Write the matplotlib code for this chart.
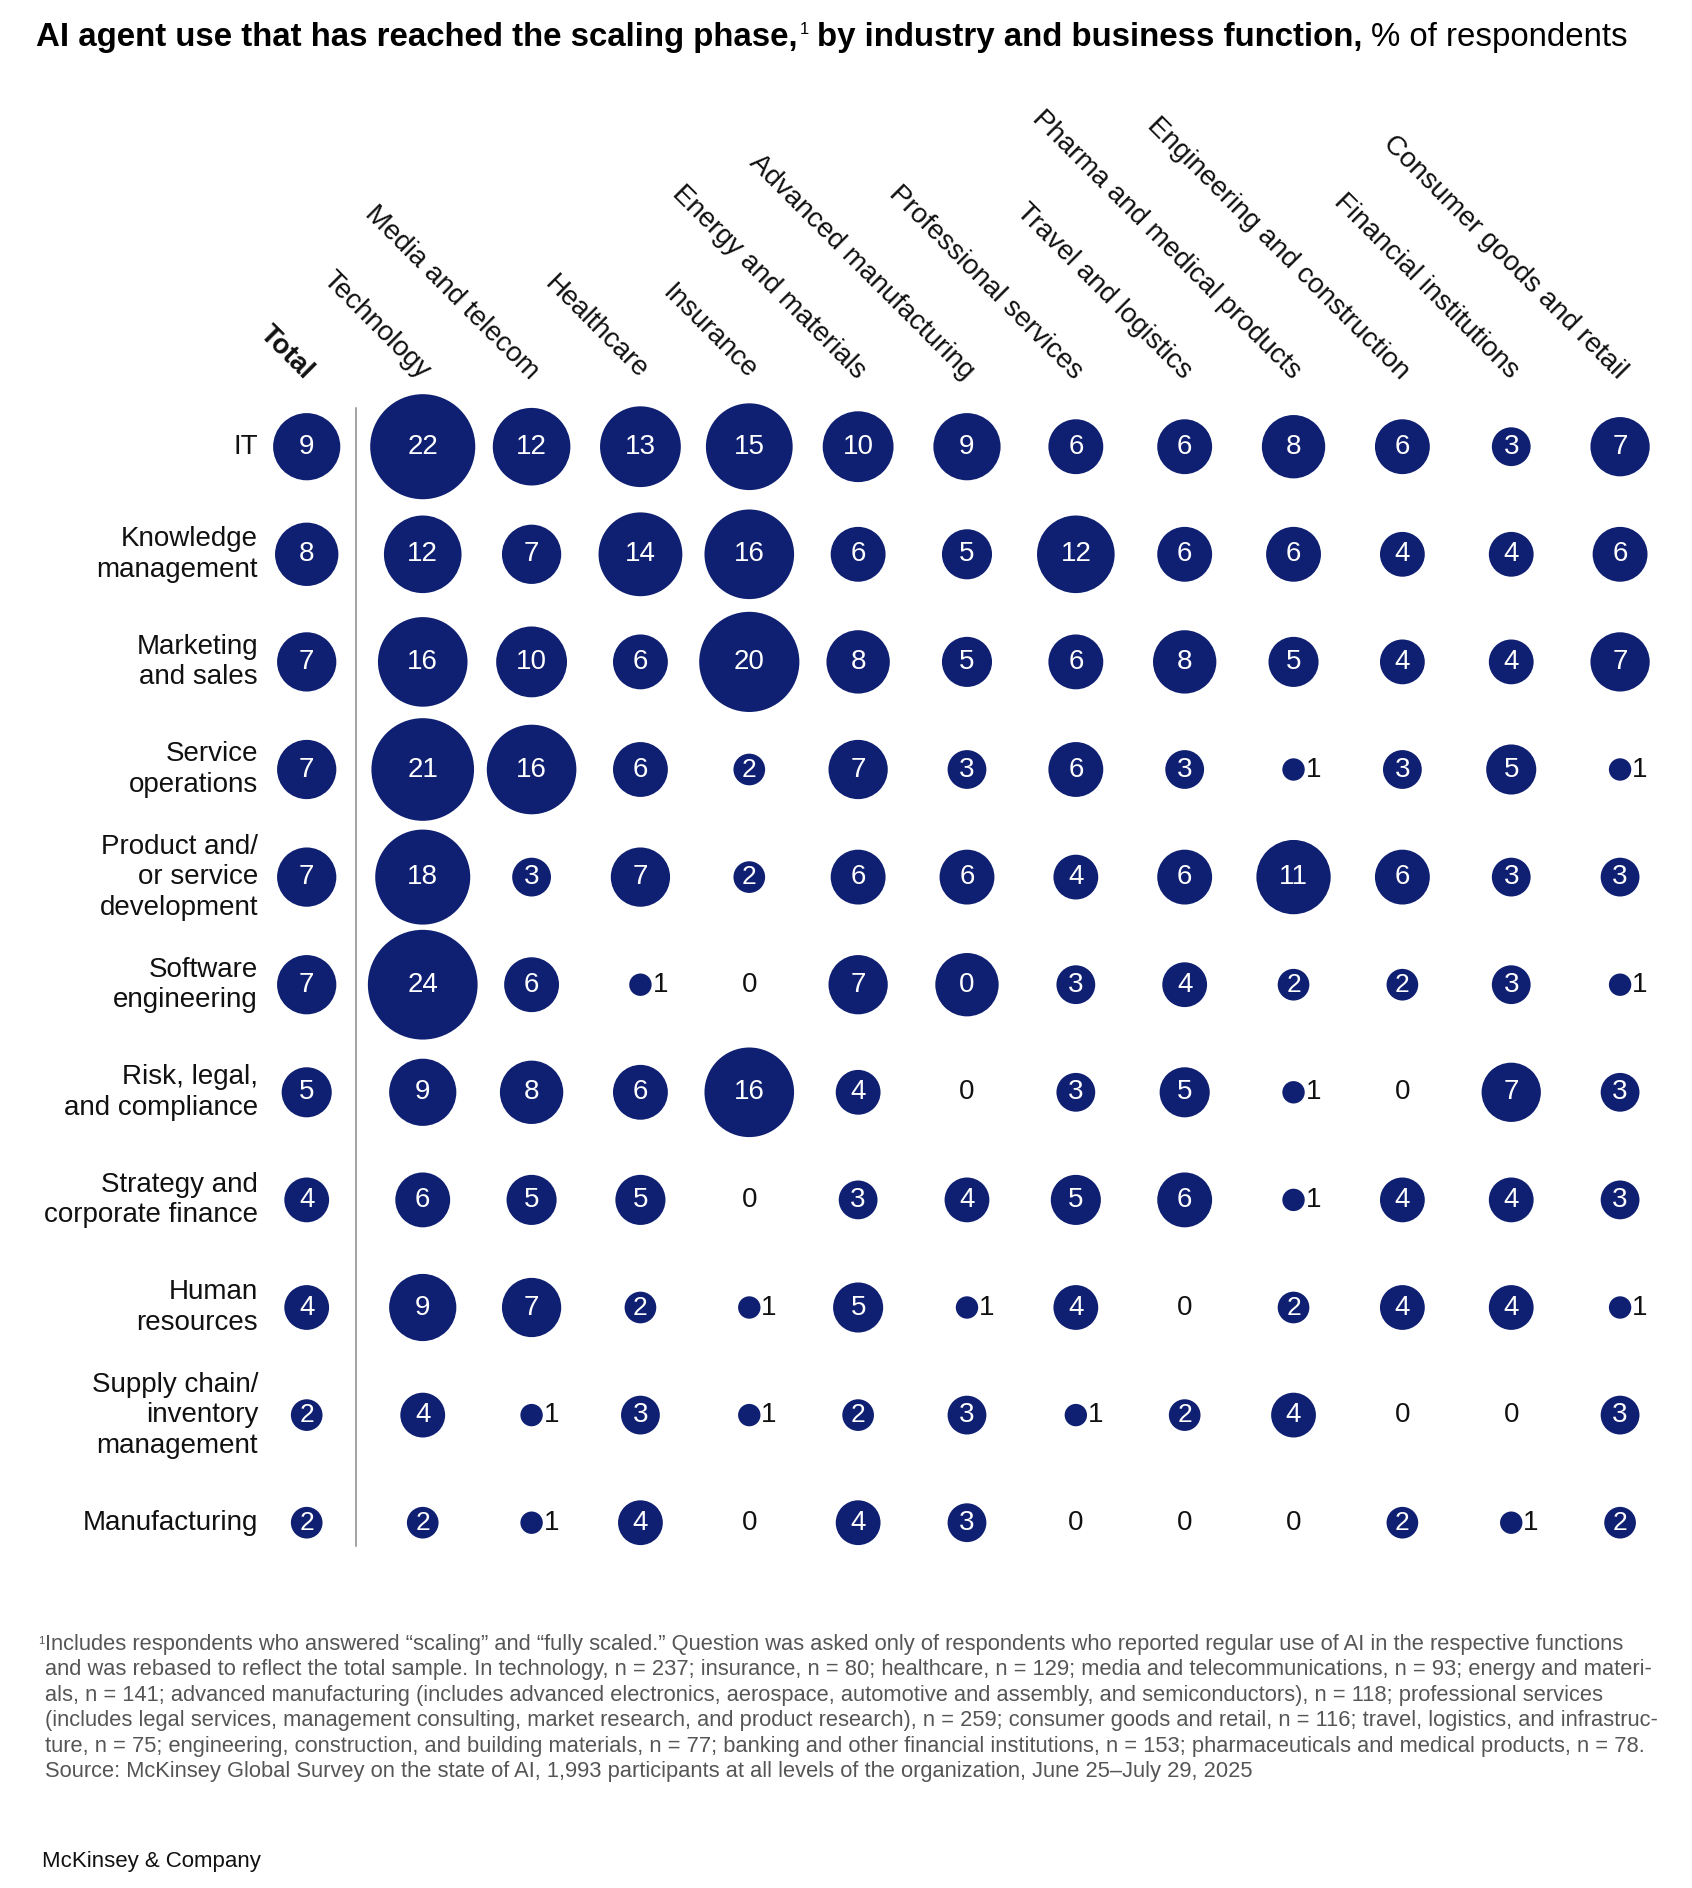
import numpy as np
import matplotlib
matplotlib.use('Agg')
import matplotlib.pyplot as plt

# data
functions = ['IT', 'Knowledge\nmanagement', 'Marketing\nand sales', 'Service\noperations',
             'Product and/\nor service\ndevelopment', 'Software\nengineering',
             'Risk, legal,\nand compliance', 'Strategy and\ncorporate finance',
             'Human\nresources', 'Supply chain/\ninventory\nmanagement', 'Manufacturing']
industries = ['Total', 'Technology', 'Media and telecom', 'Healthcare', 'Insurance',
              'Energy and materials', 'Advanced manufacturing', 'Professional services',
              'Travel and logistics', 'Pharma and medical products',
              'Engineering and construction', 'Financial institutions',
              'Consumer goods and retail']
values = np.array([
    [9, 22, 12, 13, 15, 10, 9, 6, 6, 8, 6, 3, 7],
    [8, 12, 7, 14, 16, 6, 5, 12, 6, 6, 4, 4, 6],
    [7, 16, 10, 6, 20, 8, 5, 6, 8, 5, 4, 4, 7],
    [7, 21, 16, 6, 2, 7, 3, 6, 3, 1, 3, 5, 1],
    [7, 18, 3, 7, 2, 6, 6, 4, 6, 11, 6, 3, 3],
    [7, 24, 6, 1, 0, 7, 8, 3, 4, 2, 2, 3, 1],
    [5, 9, 8, 6, 16, 4, 0, 3, 5, 1, 0, 7, 3],
    [4, 6, 5, 5, 0, 3, 4, 5, 6, 1, 4, 4, 3],
    [4, 9, 7, 2, 1, 5, 1, 4, 0, 2, 4, 4, 1],
    [2, 4, 1, 3, 1, 2, 3, 1, 2, 4, 0, 0, 3],
    [2, 2, 1, 4, 0, 4, 3, 0, 0, 0, 2, 1, 2],
])
# the published chart prints "0" on this bubble
shown_labels = {(5, 6): '0'}

footnote = [
    'Includes respondents who answered \u201cscaling\u201d and \u201cfully scaled.\u201d Question was asked only of respondents who reported regular use of AI in the respective functions',
    'and was rebased to reflect the total sample. In technology, n = 237; insurance, n = 80; healthcare, n = 129; media and telecommunications, n = 93; energy and materi-',
    'als, n = 141; advanced manufacturing (includes advanced electronics, aerospace, automotive and assembly, and semiconductors), n = 118; professional services',
    '(includes legal services, management consulting, market research, and product research), n = 259; consumer goods and retail, n = 116; travel, logistics, and infrastruc-',
    'ture, n = 75; engineering, construction, and building materials, n = 77; banking and other financial institutions, n = 153; pharmaceuticals and medical products, n = 78.',
    'Source: McKinsey Global Survey on the state of AI, 1,993 participants at all levels of the organization, June 25\u2013July 29, 2025',
]

navy = '#0f1f71'
W, H = 1692, 1888
x0_px, dx_px = 306.7, 108.85
y0_px, dy_px = 446.7, 107.6
d1_px = 22.4  # bubble diameter for a value of 1

plt.rcParams['font.family'] = ['Liberation Sans', 'DejaVu Sans']

fig = plt.figure(figsize=(W / 100, H / 100), dpi=100)
ax = fig.add_axes([0, 0, 1, 1])
ax.set_xlim(-x0_px / dx_px, (W - x0_px) / dx_px)
ax.set_ylim((H - y0_px) / dy_px, -y0_px / dy_px)
ax.axis('off')

col_x = np.array([0.0] + [1.066 + i for i in range(len(industries) - 1)])
row_y = np.arange(len(functions))
X, Y = np.meshgrid(col_x, row_y)

sizes = (d1_px * 0.72) ** 2 * values
ax.scatter(X.ravel(), Y.ravel(), s=sizes.ravel(), color=navy, linewidths=0, zorder=2)

for r in range(len(functions)):
    for c in range(len(industries)):
        v = values[r, c]
        lab = shown_labels.get((r, c), str(v))
        if v == 0:
            ax.text(col_x[c], row_y[r], lab, ha='center', va='center', fontsize=20, color='#111111')
        elif v == 1:
            ax.text(col_x[c] + 0.11, row_y[r], lab, ha='left', va='center', fontsize=20, color='#111111')
        else:
            ax.text(col_x[c], row_y[r], lab, ha='center', va='center', fontsize=20 if v > 2 else 19,
                    color='white', zorder=3)

# row labels
for r, name in enumerate(functions):
    ax.text(-0.447, row_y[r], name, ha='right', va='center', multialignment='right',
            fontsize=20, linespacing=1.22, color='#111111')

# column labels
for c, name in enumerate(industries):
    ax.text(col_x[c] - 0.02, -0.62, name, rotation=-45, rotation_mode='anchor',
            ha='right', va='baseline', fontsize=20, color='#111111',
            fontweight='bold' if c == 0 else 'normal')

# divider after Total
ax.plot([0.453, 0.453], [-0.36, 10.22], color='#8a8a8a', lw=1.1)

# title, built piece by piece on one baseline
renderer = fig.canvas.get_renderer()
ty = 1 - 46 / H
t1 = fig.text(36 / W, ty, 'AI agent use that has reached the scaling phase,', fontsize=23.8,
              fontweight='bold', va='baseline')
bb = t1.get_window_extent(renderer)
sup = fig.text((bb.x1 + 2) / W, 1 - 22 / H, '1', fontsize=12, va='top')
bb = sup.get_window_extent(renderer)
t2 = fig.text((bb.x1 + 8) / W, ty, 'by industry and business function,', fontsize=23.8,
              fontweight='bold', va='baseline')
bb = t2.get_window_extent(renderer)
fig.text((bb.x1 + 9) / W, ty, '% of respondents', fontsize=23.8, va='baseline')

# footnote and source
fig.text(38 / W, 1 - 1636 / H, '1', fontsize=8, color='#555555', va='top')
fig.text(45 / W, 1 - 1634 / H, '\n'.join(footnote), fontsize=15.75, color='#555555',
         va='top', linespacing=1.28)
fig.text(42 / W, 1 - 1862 / H, 'McKinsey & Company', fontsize=16, color='#111111', va='center')

fig.savefig('out.png', dpi=100)
